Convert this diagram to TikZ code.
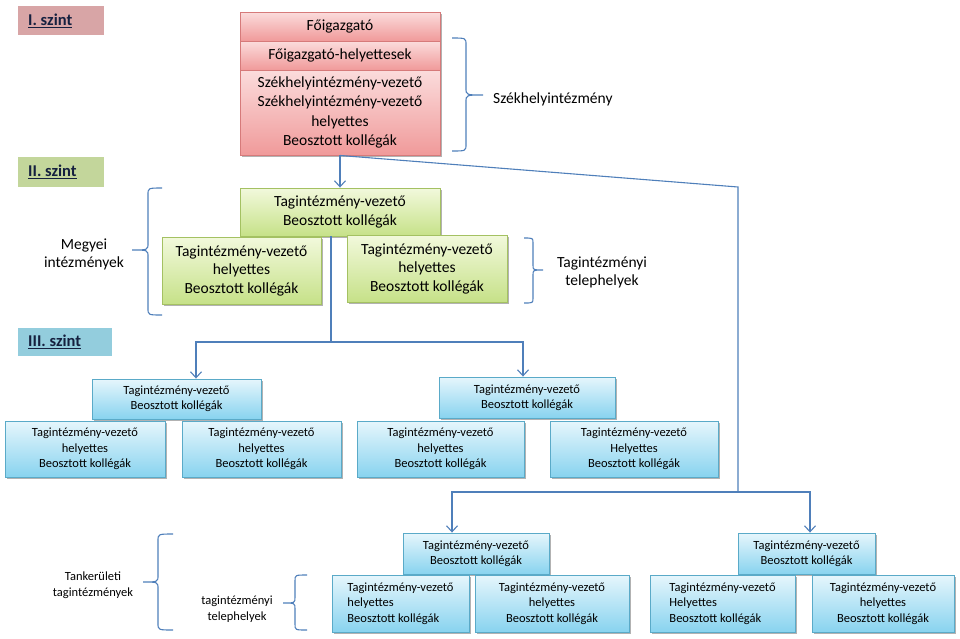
\documentclass[tikz,border=0pt]{standalone}
\usepackage{fontspec}
\setmainfont{Carlito}
\usetikzlibrary{arrows.meta,shadows,calc}
\definecolor{redtop}{HTML}{FBDCDC}
\definecolor{redbot}{HTML}{F09A9A}
\definecolor{redline}{HTML}{D67A7A}
\definecolor{greentop}{HTML}{F2F9DC}
\definecolor{greenbot}{HTML}{C6E188}
\definecolor{greenline}{HTML}{A4C162}
\definecolor{bluetop}{HTML}{E6F6FC}
\definecolor{bluebot}{HTML}{88D3EF}
\definecolor{blueline}{HTML}{5AAAC8}
\definecolor{connc}{HTML}{4F7FBA}
\definecolor{lvlone}{HTML}{D8A5A6}
\definecolor{lvltwo}{HTML}{C3D69B}
\definecolor{lvlthree}{HTML}{93CDDD}
\definecolor{lvltext}{HTML}{15203F}
\newcommand\curlybrace[7]{%
\draw[bracestyle] (#1,#4) .. controls (#2,#4) .. (#2,#4+#7) -- (#2,#5-#7) .. controls (#2,#5) .. (#3,#5) .. controls (#2,#5) .. (#2,#5+#7) -- (#2,#6-#7) .. controls (#2,#6) .. (#1,#6);}
\begin{document}
\begin{tikzpicture}[x=1pt,y=-1pt,
  boxbase/.style={rectangle, inner sep=2pt, align=center, line width=0.9pt,
    drop shadow={shadow xshift=1.8pt,shadow yshift=-1.8pt,opacity=0.3,fill=black}},
  redbox/.style={boxbase, draw=redline, top color=redtop, bottom color=redbot,
    font=\fontsize{15.5}{19.5}\selectfont},
  greenbox/.style={boxbase, draw=greenline, top color=greentop, bottom color=greenbot,
    font=\fontsize{15.5}{18.5}\selectfont},
  bluebox/.style={boxbase, draw=blueline, top color=bluetop, bottom color=bluebot,
    font=\fontsize{12.5}{15.3}\selectfont},
  lvlbox/.style={rectangle, inner sep=0pt, anchor=north west},
  lvltxt/.style={anchor=west, inner sep=0pt, text=lvltext, font=\fontsize{16.5}{19}\selectfont\bfseries},
  lbl/.style={align=center, inner sep=0pt, font=\fontsize{15.5}{18}\selectfont},
  smalllbl/.style={align=center, inner sep=0pt, font=\fontsize{12.5}{16}\selectfont},
  conn/.style={draw=connc, line width=1.1pt},
  arr/.style={conn, -{Straight Barb[length=6pt,width=11pt]}},
  bracestyle/.style={draw=connc, line width=1.1pt}
]
\useasboundingbox (0,0) rectangle (960,638);

% level labels
\node[lvlbox, fill=lvlone, minimum width=86pt, minimum height=29pt] (l1box) at (18,6) {};
\node[lvltxt] (l1) at (28,20.5) {\underline{I. szint}};
\node[lvlbox, fill=lvltwo, minimum width=86pt, minimum height=30pt] (l2box) at (18,157) {};
\node[lvltxt] (l2) at (28,172) {\underline{II. szint}};
\node[lvlbox, fill=lvlthree, minimum width=94pt, minimum height=28pt] (l3box) at (18,328) {};
\node[lvltxt] (l3) at (28,342) {\underline{III. szint}};

% level I
\node[redbox, minimum width=200pt, minimum height=29pt] (fo) at (340,26.5) {Főigazgató};
\node[redbox, minimum width=200pt, minimum height=29pt] (foh) at (340,55.5) {Főigazgató-helyettesek};
\node[redbox, minimum width=200pt, minimum height=85pt] (szek) at (340,112.5)
  {Székhelyintézmény-vezető\\Székhelyintézmény-vezető\\helyettes\\Beosztott kollégák};

% level II
\node[greenbox, minimum width=200pt, minimum height=48pt] (gt) at (340,212)
  {Tagintézmény-vezető\\Beosztott kollégák};
\node[greenbox, minimum width=159pt, minimum height=67pt] (gl) at (241.5,270.5)
  {Tagintézmény-vezető\\helyettes\\Beosztott kollégák};
\node[greenbox, minimum width=160pt, minimum height=67pt] (gr) at (427,268.5)
  {Tagintézmény-vezető\\helyettes\\Beosztott kollégák};

% level III
\node[bluebox, minimum width=169pt, minimum height=40pt] (A) at (176.5,399)
  {Tagintézmény-vezető\\Beosztott kollégák};
\node[bluebox, minimum width=176pt, minimum height=41pt] (B) at (527,397.5)
  {Tagintézmény-vezető\\Beosztott kollégák};
\node[bluebox, minimum width=160pt, minimum height=56pt] (C) at (85,449)
  {Tagintézmény-vezető\\helyettes\\Beosztott kollégák};
\node[bluebox, minimum width=159pt, minimum height=56pt] (D) at (261.5,449)
  {Tagintézmény-vezető\\helyettes\\Beosztott kollégák};
\node[bluebox, minimum width=167pt, minimum height=56pt] (E) at (440.5,449)
  {Tagintézmény-vezető\\helyettes\\Beosztott kollégák};
\node[bluebox, minimum width=168pt, minimum height=56pt] (F) at (634,449)
  {Tagintézmény-vezető\\Helyettes\\Beosztott kollégák};

% level IV
\node[bluebox, minimum width=146pt, minimum height=41pt] (G) at (476,553.5)
  {Tagintézmény-vezető\\Beosztott kollégák};
\node[bluebox, minimum width=137pt, minimum height=41pt] (H) at (806.5,553.5)
  {Tagintézmény-vezető\\Beosztott kollégák};
\node[bluebox, align=left, minimum width=137pt, minimum height=57pt] (I) at (400.5,603.5)
  {Tagintézmény-vezető\\helyettes\\Beosztott kollégák};
\node[bluebox, minimum width=154pt, minimum height=57pt] (J) at (552,603.5)
  {Tagintézmény-vezető\\helyettes\\Beosztott kollégák};
\node[bluebox, align=left, minimum width=145pt, minimum height=57pt] (K) at (722.5,603.5)
  {Tagintézmény-vezető\\Helyettes\\Beosztott kollégák};
\node[bluebox, minimum width=142pt, minimum height=57pt] (L) at (883,603.5)
  {Tagintézmény-vezető\\helyettes\\Beosztott kollégák};

% side labels
\node[lbl, anchor=west] (szlbl) at (493,99) {Székhelyintézmény};
\node[lbl] (tlbl) at (602,272) {Tagintézményi\\telephelyek};
\node[lbl] (mlbl) at (84,254) {Megyei\\intézmények};
\node[smalllbl] (tklbl) at (93,585) {Tankerületi\\tagintézmények};
\node[smalllbl] (ttlbl) at (237,609) {tagintézményi\\telephelyek};

% braces
\curlybrace{452}{466}{483}{38}{95}{151}{7}
\curlybrace{524}{533}{543}{238}{270}{303}{5}
\curlybrace{162}{148}{132}{188}{250}{315}{7}
\curlybrace{173}{158}{143}{534}{582}{630}{7}
\curlybrace{307}{295}{283}{575}{603}{630}{6}

% connectors
\coordinate (bend) at (738,187);
\coordinate (j2) at (738,492);
\coordinate (j1) at (331,342);
\draw[arr] (szek.south) -- (gt.north);
\draw[conn] (szek.south) -- (bend) -- (j2);
\draw[conn] ([xshift=-9pt]gt.south) -- (j1);
\draw[arr] (j1) -| ([xshift=19.5pt]A.north);
\draw[arr] (j1) -| ([xshift=-4pt]B.north);
\draw[arr] (j2) -| ([xshift=-24pt]G.north);
\draw[arr] (j2) -| ([xshift=3.5pt]H.north);
\end{tikzpicture}
\end{document}
